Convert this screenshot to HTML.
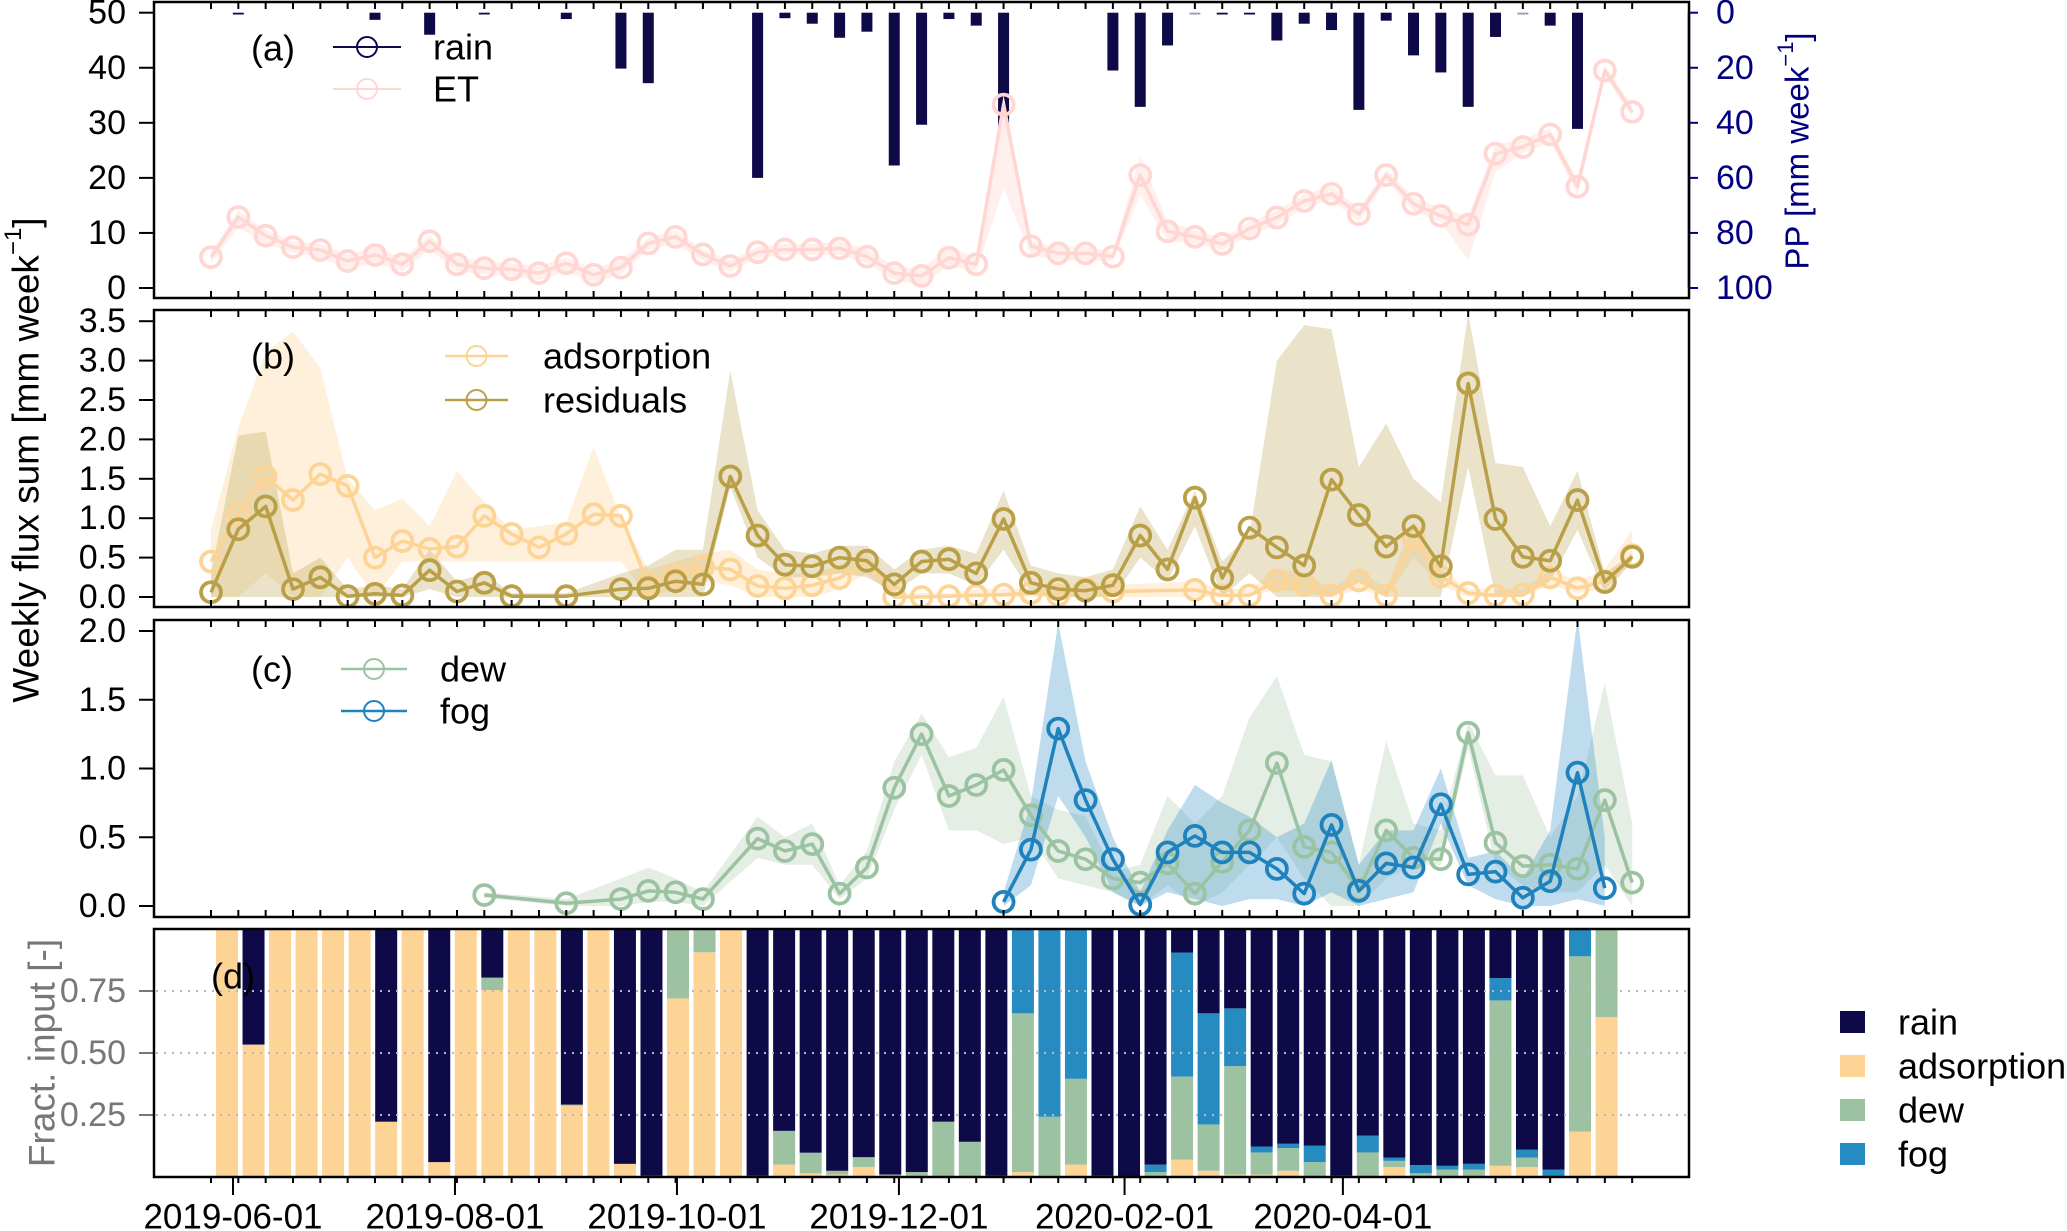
<!DOCTYPE html>
<html><head><meta charset="utf-8">
<style>
html,body{margin:0;padding:0;background:#fff;}
svg{display:block;font-family:"Liberation Sans",sans-serif;}
</style></head>
<body>
<svg id="chart" width="2067" height="1231" viewBox="0 0 2067 1231" xmlns="http://www.w3.org/2000/svg">
<defs>
<clipPath id="clipA"><rect x="154" y="2" width="1535" height="296"/></clipPath>
<clipPath id="clipB"><rect x="154" y="310" width="1535" height="297"/></clipPath>
<clipPath id="clipC"><rect x="154" y="620" width="1535" height="297"/></clipPath>
</defs>
<g id="root"></g>
</svg>
<script>
// ---- data (weekly index 0..52) ----
const N = 53;
const et   = [5.6,12.9,9.5,7.4,6.9,4.9,6.0,4.3,8.5,4.3,3.6,3.4,2.7,4.5,2.4,3.7,8.1,9.3,6.1,4.0,6.5,7.0,7.0,7.2,5.7,2.7,2.2,5.5,4.3,33.3,7.6,6.3,6.3,5.7,20.5,10.3,9.3,8.0,10.8,12.8,15.8,17.1,13.4,20.5,15.3,13.1,11.5,24.4,25.6,27.9,18.4,39.5,32.0];
const etLo = [4.5,11,8,6.5,5.5,3.5,4.5,3,7,3,2.5,2,1.5,3,1,2.5,7,8,5,3,5.5,6,6,6,4.5,1.5,0.5,4,3,18,6,5,5,5,17,8.5,8,7,9.5,11.5,14.5,16,12,19.5,14,12,5,21,24.5,26.5,17,38.5,31];
const etHi = [6.5,14,10.5,8.5,8,6,7.5,5.5,9.5,5.5,5,4.5,4,5.5,3.5,5,9,10.5,7,5,7.5,8,8,8.5,7,4,3.5,7.5,5.5,35,8.5,7.5,7.5,6.5,24,12,10.5,9,12,14,17,18.5,14.5,21.5,16.5,14.5,13,26,27,29,19.5,40.5,33];
const rainPP = [0,0.5,0,0,0,0,2.6,0,8.0,0,0.5,0,0,2.3,0,20.3,25.6,0,0,0,60,2.0,4.0,9.1,6.9,55.5,40.7,2.3,4.7,61.2,0,0,0,21.0,34.2,11.9,0.3,0.5,0.5,10.1,4.0,6.3,35.3,2.9,15.5,21.7,34.2,8.8,0.3,4.7,42.2,0,0];

const ads   = [0.45,1.05,1.53,1.23,1.56,1.41,0.5,0.71,0.61,0.64,1.03,0.8,0.63,0.8,1.05,1.03,0.16,0.28,0.38,0.35,0.14,0.11,0.15,0.24,0.46,0,0,0.01,0.02,0.03,0.05,0.02,0.1,0.07,null,null,0.09,0.02,0.02,0.21,0.16,0.02,0.21,0.02,0.75,0.26,0.05,0.02,0.03,0.25,0.11,0.2,0.53];
const adsHi = [0.85,2.15,3.1,3.37,2.9,1.5,1.1,1.25,0.9,1.6,1.2,0.85,0.9,0.95,1.9,1.0,0.35,0.45,0.55,0.6,0.35,0.3,0.3,0.4,0.6,0.05,0.05,0.05,0.1,0.1,0.1,0.1,0.2,0.15,null,null,0.2,0.1,0.1,0.35,0.3,0.1,0.35,0.1,0.95,0.35,0.1,0.1,0.1,0.35,0.2,0.35,0.85];
const adsLo = [0,0,0.3,0,0,0.5,0,0.45,0.45,0.45,0.45,0.45,0.45,0.45,0.45,0.45,0,0.1,0.2,0.15,0,0,0,0.1,0.3,0,0,0,0,0,0,0,0,0,null,null,0,0,0,0.1,0.05,0,0.1,0,0.5,0.15,0,0,0,0.15,0.05,0.1,0.45];
const res   = [0.06,0.86,1.15,0.1,0.25,0.01,0.04,0.02,0.34,0.07,0.18,0.01,null,0.01,null,0.1,0.11,0.2,0.16,1.53,0.78,0.41,0.39,0.5,0.46,0.16,0.45,0.48,0.3,0.99,0.18,0.1,0.08,0.15,0.78,0.35,1.26,0.24,0.88,0.63,0.4,1.49,1.04,0.64,0.9,0.39,2.71,0.99,0.51,0.46,1.23,0.19,0.51];
const resHi = [0.3,2.05,2.1,0.3,0.5,0.1,0.15,0.1,0.6,0.2,0.3,0.05,null,0.05,null,0.3,0.4,0.6,0.6,2.87,1.1,0.6,0.55,0.65,0.65,0.35,0.6,0.65,0.55,1.35,0.4,0.3,0.25,0.35,1.15,0.6,1.35,0.45,0.8,3.0,3.45,3.4,1.65,2.2,1.5,1.2,3.6,1.7,1.65,0.9,1.6,0.3,0.55];
const resLo = [0,0,0,0,0,0,0,0,0.1,0,0,0,null,0,null,0,0,0,0,1.4,0.5,0.25,0.25,0.3,0.25,0.05,0.3,0.3,0.15,0.6,0.05,0,0,0,0.5,0.2,0.9,0,0.3,0,0,0,0.2,0,0,0,1.65,0,0,0.2,0.85,0.05,0.45];

const dew   = [null,null,null,null,null,null,null,null,null,null,0.08,null,null,0.02,null,0.05,0.11,0.1,0.05,null,0.49,0.4,0.45,0.09,0.28,0.86,1.25,0.8,0.88,0.99,0.66,0.4,0.34,0.2,0.17,0.31,0.09,0.32,0.55,1.04,0.43,0.39,0.12,0.55,0.35,0.34,1.26,0.46,0.29,0.3,0.27,0.77,0.17];
const dewHi = [null,null,null,null,null,null,null,null,null,null,0.1,null,null,0.05,null,0.2,0.28,0.2,0.1,null,0.65,0.5,0.6,0.15,0.4,1.05,1.4,1.08,1.15,1.52,0.8,0.7,0.65,0.25,0.3,0.8,0.6,0.8,1.37,1.67,1.1,1.05,0.3,1.2,0.6,0.55,1.34,0.95,0.95,0.5,0.8,1.62,0.6];
const dewLo = [null,null,null,null,null,null,null,null,null,null,0.06,null,null,0,null,0,0.03,0.03,0,null,0.35,0.3,0.3,0.05,0.2,0.7,1.1,0.55,0.55,0.45,0.5,0.2,0.15,0.1,0,0.15,0,0.1,0.3,0.5,0.2,0,0,0.2,0.3,0.3,1.15,0.3,0.15,0.1,0.1,0.3,0];
const fog   = [null,null,null,null,null,null,null,null,null,null,null,null,null,null,null,null,null,null,null,null,null,null,null,null,null,null,null,null,null,0.03,0.41,1.29,0.77,0.34,0.01,0.39,0.51,0.39,0.39,0.27,0.09,0.59,0.11,0.31,0.28,0.74,0.23,0.25,0.06,0.18,0.97,0.13,null];
const fogHi = [null,null,null,null,null,null,null,null,null,null,null,null,null,null,null,null,null,null,null,null,null,null,null,null,null,null,null,null,null,0.1,0.75,2.06,1.05,0.5,0.1,0.55,0.88,0.75,0.65,0.5,0.6,1.06,0.3,0.55,0.55,1.0,0.35,0.4,0.2,0.55,2.1,0.5,null];
const fogLo = [null,null,null,null,null,null,null,null,null,null,null,null,null,null,null,null,null,null,null,null,null,null,null,null,null,null,null,null,null,0,0.15,0.8,0.5,0.1,0,0.1,0.05,0,0.05,0.05,0,0.1,0,0.05,0.1,0.6,0.15,0.05,0,0,0.05,0,null];

const fAds  = [1,0.534,1,1,1,1,0.223,1,0.06,1,0.754,1,1,0.288,1,0.053,0.005,0.72,0.906,1,0,0.05,0.015,0.01,0.04,0,0.005,0,0,0,0.02,0.005,0.05,0,0,0,0.07,0.025,0.01,0.01,0.025,0,0,0,0.04,0,0,0,0.045,0.04,0,0.183,0.644];
const fDew  = [0,0,0,0,0,0,0,0,0,0,0.05,0,0,0.004,0,0,0,0.28,0.094,0,0.005,0.136,0.083,0.015,0.04,0.01,0.015,0.223,0.142,0.005,0.64,0.238,0.346,0,0,0.02,0.335,0.187,0.437,0.089,0.092,0.06,0,0.099,0.025,0.015,0.03,0.03,0.667,0.038,0,0.707,0.356];
const fFog  = [0,0,0,0,0,0,0,0,0,0,0,0,0,0,0,0,0,0,0,0,0,0,0,0,0,0,0,0,0,0,0.34,0.757,0.604,0.005,0,0.03,0.5,0.448,0.233,0.024,0.017,0.066,0.005,0.068,0.013,0.033,0.015,0.023,0.09,0.032,0.03,0.11,0];
const fRain = [0,0.466,0,0,0,0,0.777,0,0.94,0,0.196,0,0,0.708,0,0.947,0.995,0,0,0,0.995,0.814,0.902,0.975,0.92,0.99,0.98,0.777,0.858,0.995,0,0,0,0.995,1,0.95,0.095,0.34,0.32,0.877,0.866,0.874,0.995,0.833,0.922,0.952,0.955,0.947,0.198,0.89,0.97,0,0];

const ticksA = [0,10,20,30,40,50];
const ticksPP = [0,20,40,60,80,100];
const ticksB = ["0.0","0.5","1.0","1.5","2.0","2.5","3.0","3.5"];
const ticksC = ["0.0","0.5","1.0","1.5","2.0"];
const ticksD = ["0.25","0.50","0.75"];
const dateTicks = ["2019-06-01","2019-08-01","2019-10-01","2019-12-01","2020-02-01","2020-04-01"];

// ---- scales ----
const xPt = i => 211 + i * 27.33;
const xBar = i => 216 + i * 26.53;
const yA = v => 288 - v * 5.506;
const yPP = v => 12.7 + v * 2.753;
const yB = v => 597 - v * 78.8;
const yC = v => 906 - v * 137.5;
const yD = v => 1177 - v * 248;
const d0 = Date.UTC(2019,5,1);
const xDate = s => { const p = s.split('-'); return 233 + (Date.UTC(+p[0], +p[1]-1, +p[2]) - d0) / 86400000 * 3.639; };

const NS = 'http://www.w3.org/2000/svg';
const root = document.getElementById('root');
function mk(tag, attrs, parent) {
  const e = document.createElementNS(NS, tag);
  for (const k in attrs) e.setAttribute(k, attrs[k]);
  (parent || root).appendChild(e);
  return e;
}
function txt(x, y, s, attrs, parent) {
  const t = mk('text', Object.assign({x:x, y:y, 'font-size':34, 'dominant-baseline':'central'}, attrs), parent);
  t.textContent = s;
  return t;
}
function band(lo, hi, ys, fill, parent, name) {
  const idx = [];
  for (let i = 0; i < N; i++) if (lo[i] != null && hi[i] != null) idx.push(i);
  let d = '';
  idx.forEach((i, k) => { d += (k ? 'L' : 'M') + xPt(i).toFixed(1) + ',' + ys(hi[i]).toFixed(1); });
  idx.slice().reverse().forEach(i => { d += 'L' + xPt(i).toFixed(1) + ',' + ys(lo[i]).toFixed(1); });
  const p = mk('path', {d: d + 'Z', fill: fill, stroke: 'none'}, parent);
  
  
}
function series(vals, ys, color, parent, name) {
  const g = mk('g', {}, parent);
  
  
  const idx = [];
  for (let i = 0; i < N; i++) if (vals[i] != null) idx.push(i);
  const d = idx.map((i, k) => (k ? 'L' : 'M') + xPt(i).toFixed(1) + ',' + ys(vals[i]).toFixed(1)).join('');
  mk('path', {d: d, fill: 'none', stroke: color, 'stroke-width': 3.5, 'stroke-linejoin': 'round'}, g);
  idx.forEach(i => {
    const c = mk('circle', {cx: xPt(i), cy: ys(vals[i]), r: 10, fill: 'none', stroke: color, 'stroke-width': 3.8}, g);
    
    
  });
}
function weekTicks(yTop, yBot) {
  for (let i = 0; i < N; i++) {
    mk('line', {x1: xPt(i), x2: xPt(i), y1: yTop, y2: yTop + 7, stroke: '#000', 'stroke-width': 2});
    mk('line', {x1: xPt(i), x2: xPt(i), y1: yBot - 7, y2: yBot, stroke: '#000', 'stroke-width': 2});
  }
}
function yAxis(ticks, ys, color) {
  ticks.forEach(t => {
    const y = ys(parseFloat(t));
    mk('line', {x1: 139, x2: 154, y1: y, y2: y, stroke: color, 'stroke-width': 2});
    const l = txt(126, y, String(t), {'text-anchor': 'end', fill: color});
    
    
  });
}
function legendEntry(x1, x2, y, color, label, tx, lw) {
  const g = mk('g', {});
  
  
  mk('line', {x1: x1, x2: x2, y1: y, y2: y, stroke: color, 'stroke-width': lw}, g);
  mk('circle', {cx: (x1 + x2) / 2, cy: y, r: 10, fill: 'none', stroke: color, 'stroke-width': 2}, g);
  txt(tx, y, label, {'font-size': 36}, g);
}

// ===== Panel A =====
const gA = mk('g', {'clip-path': 'url(#clipA)'});


for (let i = 0; i < N; i++) {
  if (rainPP[i] > 0) {
    const h = Math.max(1.8, yPP(rainPP[i]) - yPP(0));
    const b = mk('rect', {x: xPt(i) - 5.5, y: yPP(0), width: 11, height: h, fill: rainPP[i] < 0.4 ? '#9a98b8' : '#0e0a48'}, gA);
    
    
  }
}
band(etLo, etHi, yA, '#fff0ee', gA, 'et-band');
series(et, yA, '#ffd6d2', gA, 'et-series');
weekTicks(2, 298);
yAxis(ticksA, yA, '#000');
// right PP axis
mk('line', {x1: 1689, x2: 1689, y1: yPP(0), y2: yPP(100), stroke: '#000080', 'stroke-width': 2.5});
ticksPP.forEach(t => {
  const y = yPP(t);
  mk('line', {x1: 1689, x2: 1698, y1: y, y2: y, stroke: '#000080', 'stroke-width': 2});
  const l = txt(1716, y, String(t), {fill: '#000080'});
  
  
});
const ppT = txt(0, 0, '', {fill: '#000080', 'text-anchor': 'middle', transform: 'translate(1797,151) rotate(-90)', 'font-size': 33});
ppT.innerHTML = 'PP [mm week<tspan dy="-12" font-size="22">−1</tspan><tspan dy="12">]</tspan>';


mk('rect', {x: 154, y: 2, width: 1535, height: 296, fill: 'none', stroke: '#000', 'stroke-width': 2.5});
txt(251, 48, '(a)', {'font-size': 36});
legendEntry(333, 401, 47, '#0e0a48', 'rain', 433, 2);
legendEntry(333, 401, 89, '#ffd6d2', 'ET', 433, 2);

// ===== Panel B =====
const gB = mk('g', {'clip-path': 'url(#clipB)'});


band(adsLo, adsHi, yB, 'rgba(253,212,149,0.35)', gB, 'adsorption-band');
band(resLo, resHi, yB, 'rgba(190,170,90,0.33)', gB, 'residuals-band');
series(ads, yB, '#fdd495', gB, 'adsorption-series');
series(res, yB, '#b9a048', gB, 'residuals-series');
weekTicks(310, 607);
yAxis(ticksB, yB, '#000');
mk('rect', {x: 154, y: 310, width: 1535, height: 297, fill: 'none', stroke: '#000', 'stroke-width': 2.5});
txt(251, 356, '(b)', {'font-size': 36});
legendEntry(445, 508, 356, '#fdd495', 'adsorption', 543, 2.5);
legendEntry(445, 508, 400, '#b9a048', 'residuals', 543, 2.5);

// ===== Panel C =====
const gC = mk('g', {'clip-path': 'url(#clipC)'});


band(dewLo, dewHi, yC, 'rgba(157,195,162,0.28)', gC, 'dew-band');
band(fogLo, fogHi, yC, 'rgba(42,140,200,0.3)', gC, 'fog-band');
series(dew, yC, '#9cc3a1', gC, 'dew-series');
series(fog, yC, '#1f82bd', gC, 'fog-series');
weekTicks(620, 917);
yAxis(ticksC, yC, '#000');
mk('rect', {x: 154, y: 620, width: 1535, height: 297, fill: 'none', stroke: '#000', 'stroke-width': 2.5});
txt(251, 669, '(c)', {'font-size': 36});
legendEntry(341, 407, 669, '#9cc3a1', 'dew', 440, 2.5);
legendEntry(341, 407, 711, '#1f82bd', 'fog', 440, 2.5);

// ===== Panel D =====
const gD = mk('g', {});


const stackCols = ['#fdd495', '#9dc2a1', '#258bc0', '#0e0a48'];
const stackNames = ['adsorption', 'dew', 'fog', 'rain'];
for (let i = 0; i < N; i++) {
  const parts = [fAds[i], fDew[i], fFog[i], fRain[i]];
  let acc = 0;
  parts.forEach((v, k) => {
    if (v <= 0) return;
    const y1 = yD(acc + v), y0 = yD(acc);
    const r = mk('rect', {x: xBar(i), y: y1, width: 22, height: Math.max(0.8, y0 - y1), fill: stackCols[k]}, gD);
    
    
    acc += v;
  });
}
ticksD.forEach(t => {
  const y = yD(parseFloat(t));
  mk('line', {x1: 156, x2: 1687, y1: y, y2: y, stroke: '#b8b8c0', 'stroke-width': 2, 'stroke-dasharray': '2 6'});
  mk('line', {x1: 139, x2: 154, y1: y, y2: y, stroke: '#777', 'stroke-width': 2});
  const l = txt(126, y, t, {'text-anchor': 'end', fill: '#777'});
  
  
});
mk('rect', {x: 154, y: 929, width: 1535, height: 248, fill: 'none', stroke: '#000', 'stroke-width': 2.5});
txt(211, 976, '(d)', {'font-size': 36});
for (let i = 0; i < N; i++) mk('line', {x1: xPt(i), x2: xPt(i), y1: 1177, y2: 1183, stroke: '#000', 'stroke-width': 2});
dateTicks.forEach(s => {
  const x = xDate(s);
  mk('line', {x1: x, x2: x, y1: 1177, y2: 1195, stroke: '#000', 'stroke-width': 2});
  const l = txt(x, 1217, s, {'text-anchor': 'middle', 'font-size': 35});
  
  
});

// axis titles
const yT = txt(0, 0, '', {'text-anchor': 'middle', transform: 'translate(26,460) rotate(-90)', 'font-size': 37});
yT.innerHTML = 'Weekly flux sum [mm week<tspan dy="-13" font-size="24">−1</tspan><tspan dy="13">]</tspan>';


const fT = txt(0, 0, 'Fract. input [-]', {'text-anchor': 'middle', fill: '#777', transform: 'translate(42,1053) rotate(-90)', 'font-size': 37});



// right legend for panel d
const legY = [1022, 1066, 1110, 1154];
const legNames = ['rain', 'adsorption', 'dew', 'fog'];
const legCols = ['#0e0a48', '#fdd495', '#9dc2a1', '#258bc0'];
legNames.forEach((n, k) => {
  const g = mk('g', {});
  
  
  mk('rect', {x: 1840, y: legY[k] - 11, width: 25, height: 22, fill: legCols[k]}, g);
  txt(1898, legY[k], n, {'font-size': 36}, g);
});
</script>
</body></html>
